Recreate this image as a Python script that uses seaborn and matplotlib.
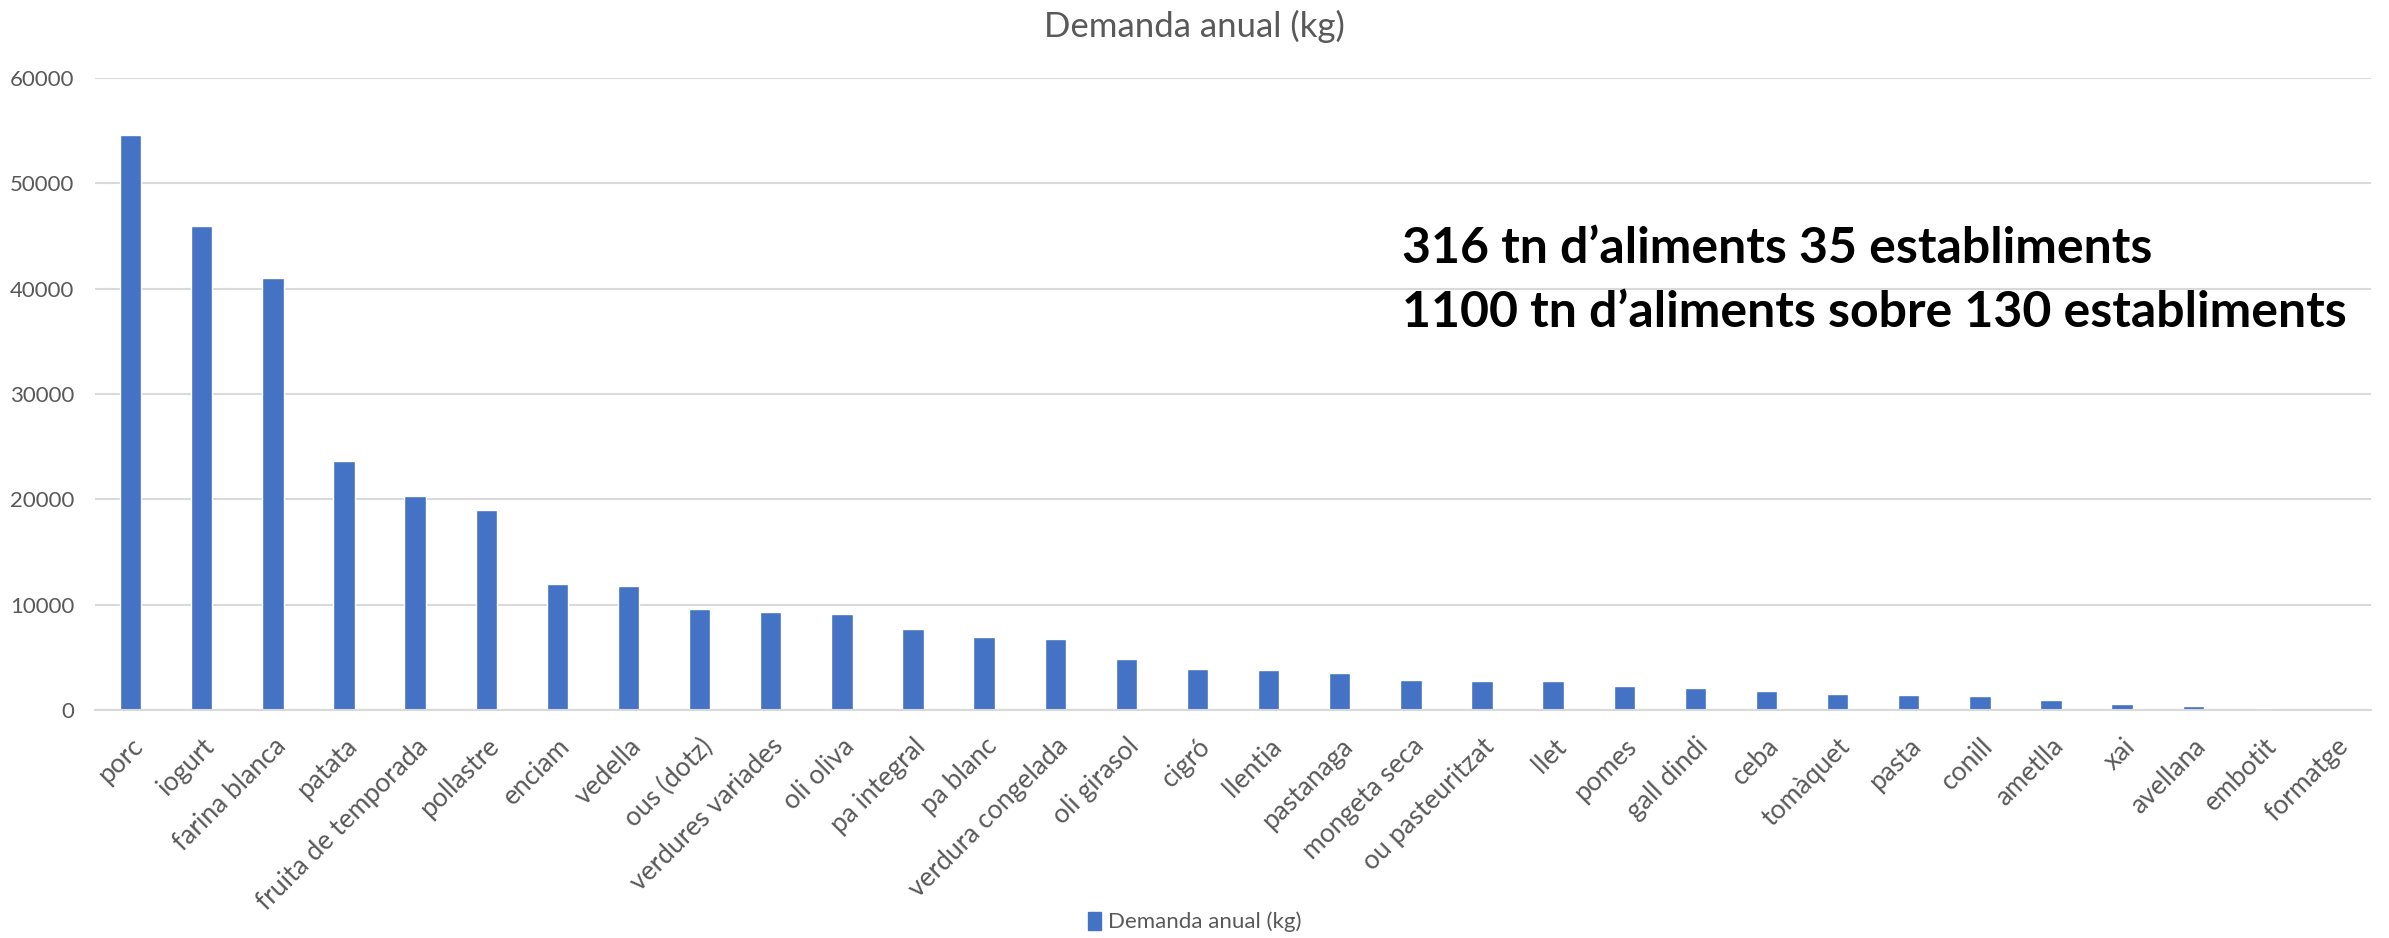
import matplotlib
matplotlib.use('Agg')
import matplotlib.pyplot as plt
import matplotlib.patches as mpatches
import numpy as np
import pandas as pd
import seaborn as sns

# Demanda anual d'aliments (kg), valors llegits del gràfic
aliments = ['porc', 'iogurt', 'farina blanca', 'patata', 'fruita de temporada',
            'pollastre', 'enciam', 'vedella', 'ous (dotz)', 'verdures variades',
            'oli oliva', 'pa integral', 'pa blanc', 'verdura congelada', 'oli girasol',
            'cigró', 'llentia', 'pastanaga', 'mongeta seca', 'ou pasteuritzat',
            'llet', 'pomes', 'gall dindi', 'ceba', 'tomàquet', 'pasta', 'conill',
            'ametlla', 'xai', 'avellana', 'embotit', 'formatge']
demanda = [54550, 45900, 41000, 23600, 20300, 19000, 11950, 11800, 9560, 9330,
           9110, 7660, 6960, 6710, 4810, 3920, 3800, 3510, 2820, 2780,
           2740, 2320, 2130, 1850, 1560, 1460, 1370, 950, 600, 410, 190, 0]
yticks = [0, 10000, 20000, 30000, 40000, 50000, 60000]

df = pd.DataFrame({'aliment': aliments, 'demanda': demanda})

sns.set_style('white')
plt.rcParams['font.family'] = ['Lato', 'DejaVu Sans']

blau = '#4472C4'
gris = '#595959'

fig = plt.figure(figsize=(23.89, 9.38), dpi=100)
ax = fig.add_axes([0.0398, 0.243, 0.9527, 0.674])

sns.barplot(data=df, x='aliment', y='demanda', color=blau, saturation=1,
            width=0.30, ax=ax)

ax.set_xlim(-0.5, len(aliments) - 0.5)
ax.set_ylim(0, 60000)
ax.set_yticks(yticks)
ax.set_yticklabels([str(v) for v in yticks], fontsize=16, color=gris)
ax.set_xlabel('')
ax.set_ylabel('')
ax.grid(axis='y', color='#d9d9d9', linewidth=1.5)
ax.set_axisbelow(True)
for s in ['top', 'right', 'left']:
    ax.spines[s].set_visible(False)
ax.spines['bottom'].set_color('#d9d9d9')
ax.spines['bottom'].set_linewidth(1.5)
ax.tick_params(axis='both', length=0)
ax.tick_params(axis='y', pad=15)
ax.tick_params(axis='x', pad=17)
plt.setp(ax.get_xticklabels(), rotation=45, ha='right', rotation_mode='anchor',
         fontsize=19, color=gris)

# títol
fig.text(0.5, 0.972, 'Demanda anual (kg)', ha='center', va='center',
         fontsize=25, color=gris)

# text destacat
fig.text(0.587, 0.735, '316 tn d\u2019aliments 35 establiments', ha='left',
         va='center', fontsize=36, fontweight='bold', color='black')
fig.text(0.587, 0.667, '1100 tn d\u2019aliments sobre 130 establiments', ha='left',
         va='center', fontsize=36, fontweight='bold', color='black')

# llegenda
handle = mpatches.Patch(color=blau, label='Demanda anual (kg)')
leg = fig.legend(handles=[handle], loc='center', bbox_to_anchor=(0.5, 0.017),
                 frameon=False, fontsize=16, handlelength=0.6, handleheight=0.9,
                 handletextpad=0.3)
for t in leg.get_texts():
    t.set_color(gris)

fig.savefig('out.png', dpi=100, facecolor='white')
